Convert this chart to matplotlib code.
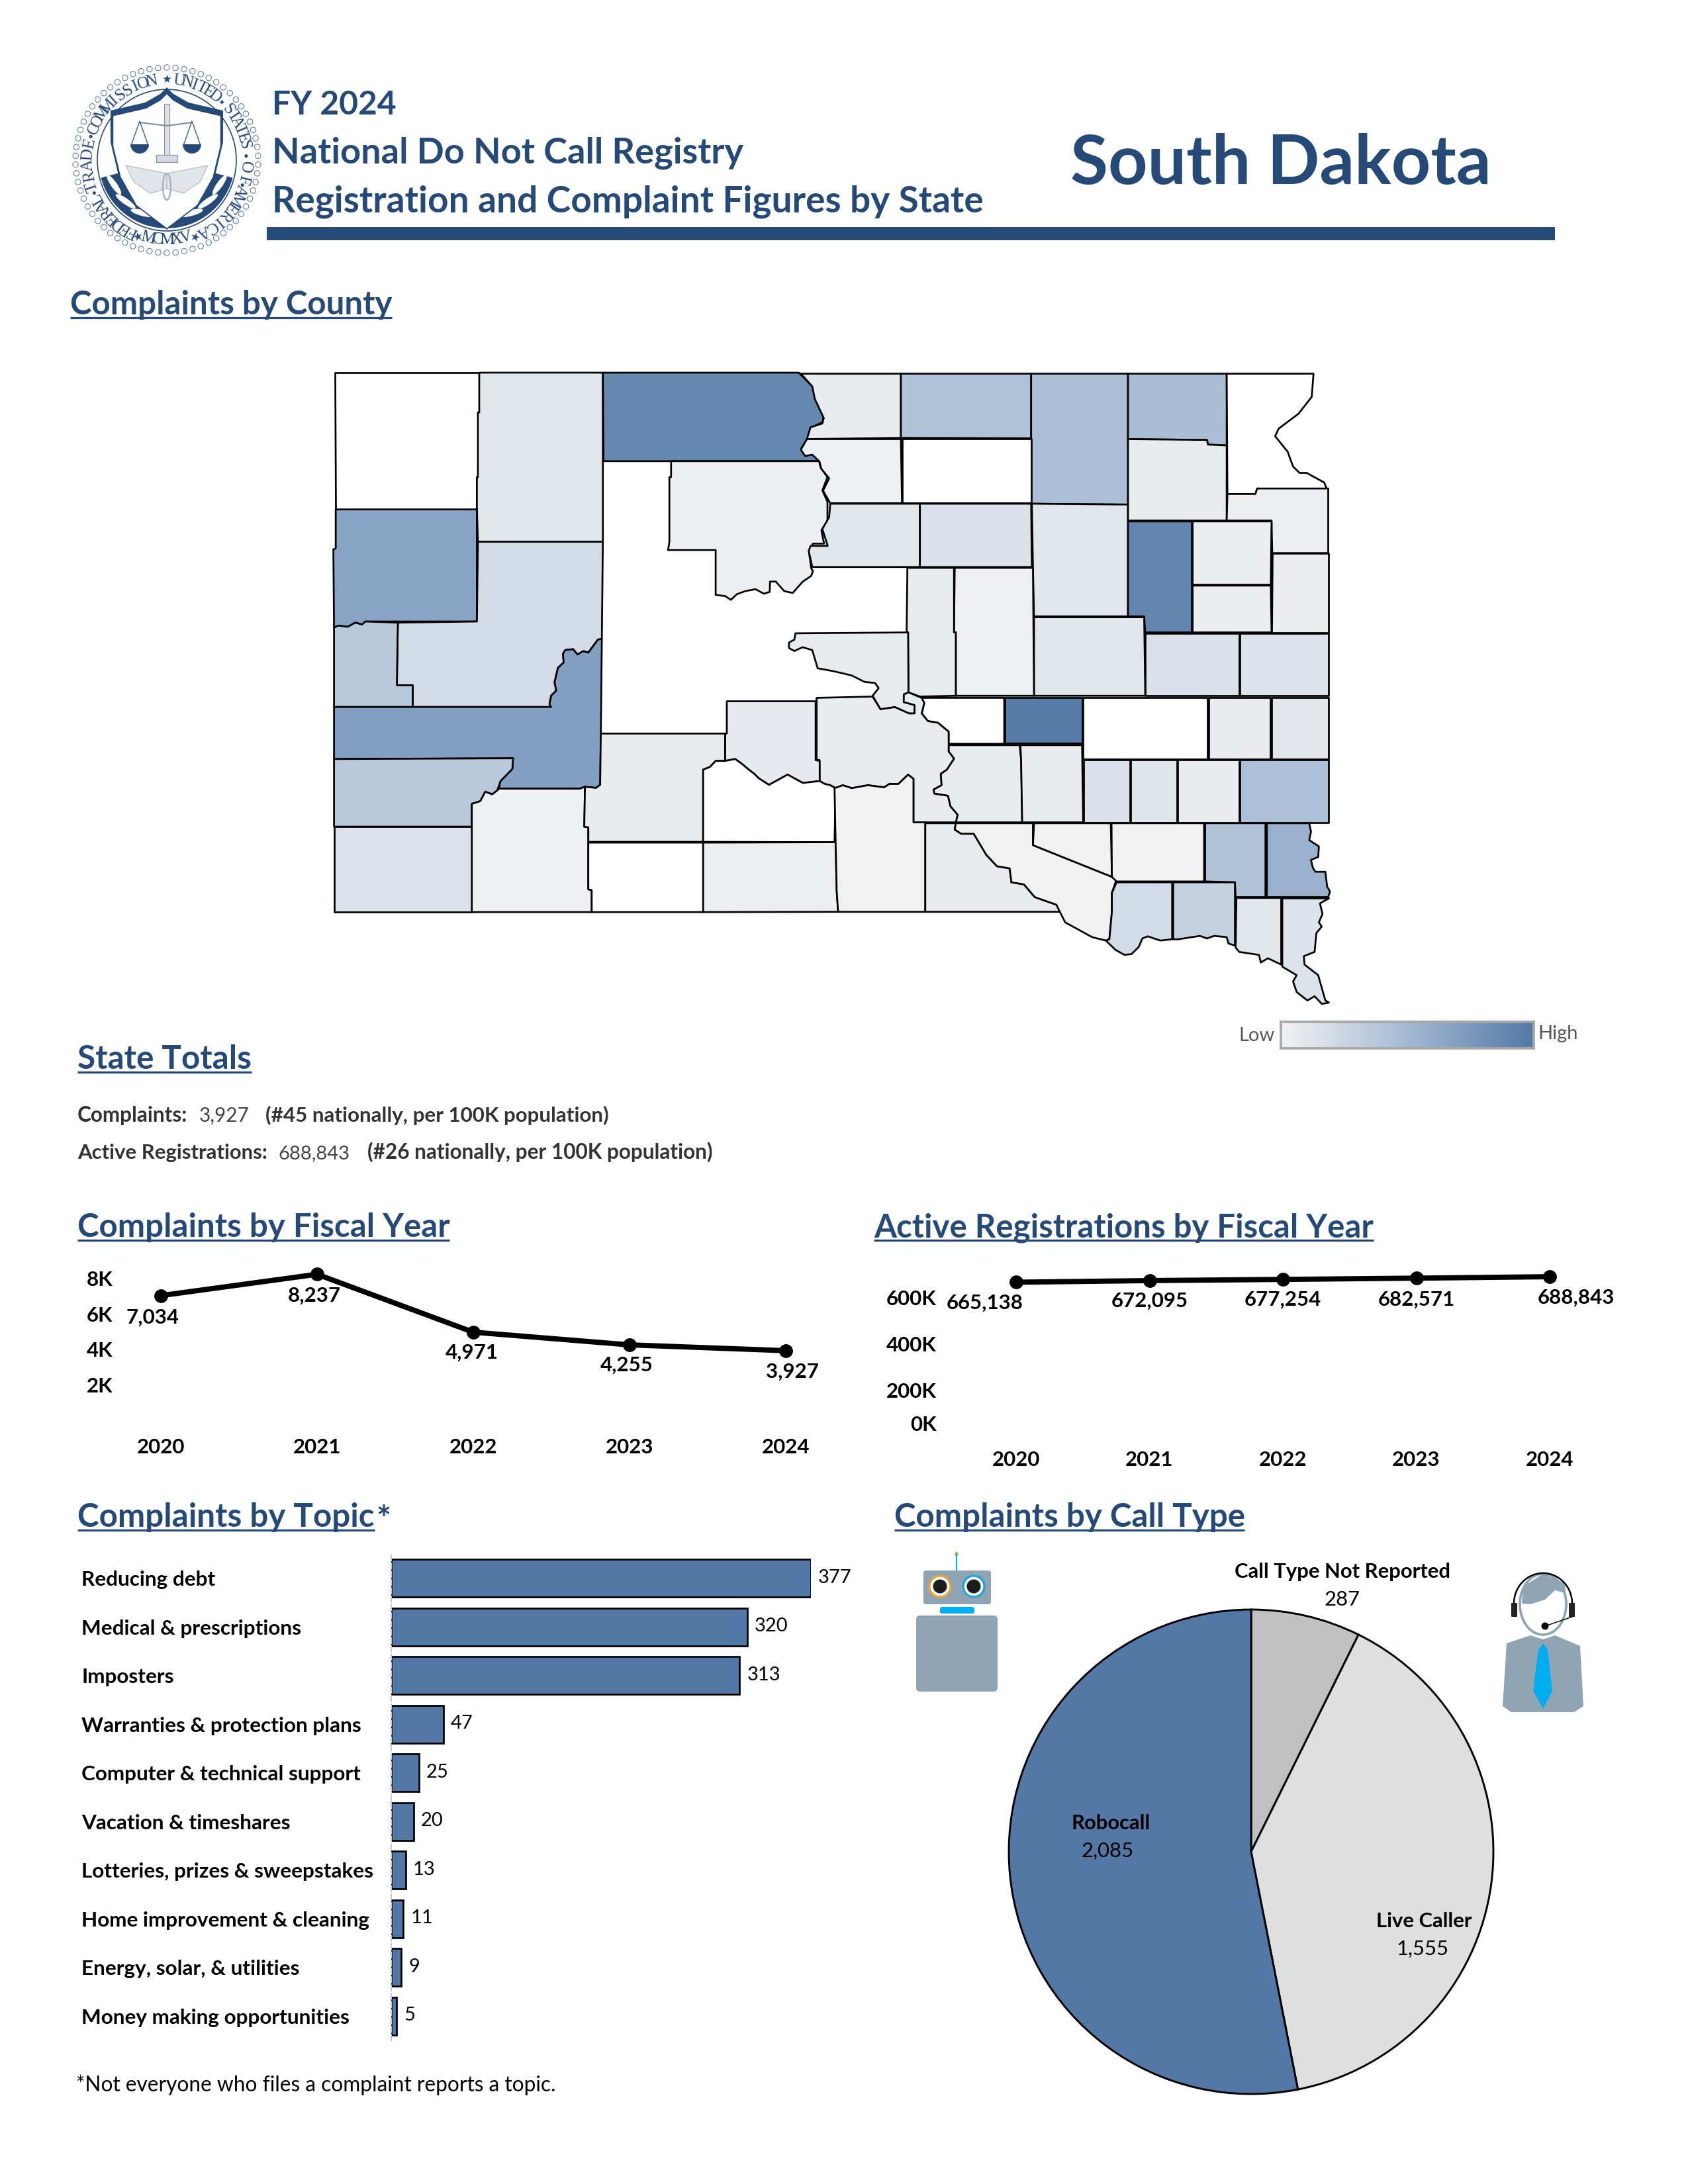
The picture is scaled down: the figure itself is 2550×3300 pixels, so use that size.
import numpy as np
import matplotlib.pyplot as plt
from matplotlib.colors import LinearSegmentedColormap
from matplotlib.patches import Polygon, Ellipse, Circle, Wedge, Arc, FancyBboxPatch, Rectangle
from matplotlib.transforms import ScaledTranslation

plt.rcParams['font.family'] = ['Lato', 'DejaVu Sans']

### 0. Data
years = [2020, 2021, 2022, 2023, 2024]
complaints_by_year = [7034, 8237, 4971, 4255, 3927]
registrations_by_year = [665138, 672095, 677254, 682571, 688843]
complaint_ticks = [2000, 4000, 6000, 8000]
complaint_tick_labels = ['2K', '4K', '6K', '8K']
registration_ticks = [0, 200000, 400000, 600000]
registration_tick_labels = ['0K', '200K', '400K', '600K']

topics = ['Reducing debt', 'Medical & prescriptions', 'Imposters', 'Warranties & protection plans',
          'Computer & technical support', 'Vacation & timeshares', 'Lotteries, prizes & sweepstakes',
          'Home improvement & cleaning', 'Energy, solar, & utilities', 'Money making opportunities']
topic_counts = [377, 320, 313, 47, 25, 20, 13, 11, 9, 5]

call_types = ['Call Type Not Reported', 'Live Caller', 'Robocall']
call_counts = [287, 1555, 2085]

# how dark each county is on the Low-High scale, None = no colour
county_shade = {
    'Harding': None, 'Perkins': .11, 'Corson': .88, 'Butte': .67, 'Meade': .20, 'Lawrence': .37,
    'Pennington': .70, 'Custer': .37, 'Fall River': .145, 'Oglala Lakota': .02, 'Dewey': .04,
    'Campbell': .06, 'McPherson': .43, 'Brown': .46, 'Marshall': .47, 'Roberts': None,
    'Walworth': .02, 'Edmunds': None, 'Potter': .11, 'Faulk': .16, 'Spink': .11, 'Day': .07,
    'Clark': .90, 'Grant': .04, 'Codington': .045, 'Hamlin': .045, 'Deuel': .045, 'Beadle': .11,
    'Kingsbury': .15, 'Brookings': .14, 'Hyde': .03, 'Sully': .07, 'Hughes': .07, 'Buffalo': None,
    'Jerauld': .97, 'Miner': None, 'Lake': .06, 'Moody': .10, 'Brule': .06, 'Aurora': .06,
    'Davison': .15, 'Hanson': .12, 'McCook': .06, 'Minnehaha': .45, 'Jones': .08, 'Jackson': .07,
    'Bennett': None, 'Mellette': None, 'Todd': .04, 'Tripp': .01, 'Gregory': .07, 'Lyman': .07,
    'Charles Mix': .01, 'Douglas': .01, 'Hutchinson': .01, 'Turner': .43, 'Lincoln': .56,
    'Bon Homme': .21, 'Yankton': .30, 'Clay': .11, 'Union': .14,
}


def west(pts):
    return [(450 + x / 1.96, 520 + y / 1.742) for x, y in pts]


def east(pts):
    return [(1200 + x / 1.845, 520 + y / 1.568) for x, y in pts]


county_outline = {
    'Harding': west([(110, 75), (537, 75), (537, 180), (533, 180), (533, 350), (530, 350), (530, 435), (112, 435)]),
    'Perkins': west([(537, 75), (903, 75), (903, 520), (533, 520), (530, 435), (530, 350), (533, 350), (533, 180), (537, 180)]),
    'Corson': west([(903, 75), (1483, 75), (1525, 113), (1530, 140), (1556, 190), (1554, 205), (1520, 220), (1510, 248),
                    (1490, 275), (1503, 288), (1525, 290), (1543, 308), (905, 308)]),
    'Butte': west([(112, 435), (530, 435), (530, 730), (200, 730), (190, 738), (170, 733), (148, 744), (120, 741),
                   (107, 746), (105, 540), (112, 538)]),
    'Meade': west([(533, 520), (903, 520), (900, 775), (888, 778), (860, 812), (845, 808), (828, 817), (815, 803),
                   (792, 805), (785, 815), (787, 838), (770, 852), (760, 890), (765, 912), (750, 925), (745, 948),
                   (750, 955), (340, 955), (340, 898), (293, 898), (296, 733), (530, 730)]),
    'Lawrence': west([(107, 746), (120, 741), (148, 744), (170, 733), (190, 738), (200, 730), (296, 733), (293, 898),
                      (340, 898), (340, 955), (107, 955)]),
    'Pennington': west([(107, 955), (750, 955), (745, 948), (750, 925), (765, 912), (760, 890), (770, 852), (787, 838),
                        (785, 815), (792, 805), (815, 803), (828, 817), (845, 808), (860, 812), (888, 778), (900, 775),
                        (897, 1025), (895, 1160), (883, 1168), (850, 1165), (835, 1170), (595, 1170), (600, 1150),
                        (635, 1118), (637, 1090), (107, 1092)]),
    'Custer': west([(107, 1092), (637, 1090), (635, 1118), (600, 1150), (590, 1175), (575, 1185), (555, 1178),
                    (540, 1203), (515, 1210), (515, 1270), (107, 1270)]),
    'Fall River': west([(107, 1270), (515, 1270), (515, 1495), (107, 1495)]),
    'Oglala Lakota': west([(515, 1210), (540, 1203), (555, 1178), (575, 1185), (590, 1175), (595, 1170), (835, 1170),
                           (850, 1165), (848, 1270), (860, 1272), (860, 1435), (870, 1437), (870, 1495), (515, 1495)]),
    'Dewey': west([(1105, 308), (1543, 308), (1548, 325), (1568, 350), (1553, 385), (1568, 415), (1568, 465),
                   (1550, 490), (1558, 525), (1525, 525), (1513, 545), (1520, 590), (1525, 597), (1520, 610),
                   (1495, 625), (1465, 655), (1440, 650), (1415, 625), (1398, 625), (1397, 652), (1380, 657),
                   (1355, 645), (1325, 650), (1300, 658), (1282, 673), (1265, 663), (1237, 660), (1237, 542),
                   (1096, 542), (1100, 520), (1100, 350), (1105, 350)]),
    'Campbell': east([(18, 70), (297, 70), (297, 222), (35, 225), (45, 197), (78, 188), (82, 175), (57, 130), (50, 100)]),
    'McPherson': east([(297, 70), (660, 70), (660, 223), (297, 222)]),
    'Brown': east([(660, 70), (930, 70), (930, 380), (660, 378)]),
    'Marshall': east([(930, 70), (1205, 70), (1205, 240), (1153, 238), (1150, 227), (930, 225)]),
    'Roberts': east([(1205, 70), (1447, 70), (1442, 125), (1405, 165), (1350, 200), (1340, 218), (1375, 255),
                     (1390, 290), (1408, 305), (1428, 305), (1477, 328), (1488, 352), (1290, 342), (1285, 355), (1207, 355)]),
    'Walworth': east([(35, 225), (297, 225), (300, 377), (100, 377), (80, 347), (97, 318), (75, 295), (70, 278),
                      (50, 262), (30, 265), (18, 250)]),
    'Edmunds': east([(300, 225), (660, 225), (660, 377), (300, 377)]),
    'Potter': east([(100, 378), (350, 378), (350, 528), (50, 528), (40, 490), (45, 478), (93, 478), (78, 438), (97, 410)]),
    'Faulk': east([(350, 378), (660, 378), (662, 528), (350, 528)]),
    'Spink': east([(662, 378), (930, 380), (930, 645), (668, 645), (665, 530)]),
    'Day': east([(930, 225), (1150, 227), (1153, 238), (1205, 240), (1205, 418), (930, 418)]),
    'Clark': east([(930, 420), (1108, 420), (1108, 683), (978, 683), (975, 645), (930, 645)]),
    'Grant': east([(1207, 355), (1285, 355), (1290, 342), (1488, 342), (1488, 495), (1332, 495), (1330, 418), (1205, 418)]),
    'Codington': east([(1110, 420), (1330, 420), (1328, 570), (1110, 570)]),
    'Hamlin': east([(1110, 572), (1328, 572), (1330, 683), (1110, 683)]),
    'Deuel': east([(1332, 495), (1488, 495), (1488, 683), (1330, 683)]),
    'Beadle': east([(668, 647), (975, 647), (978, 833), (668, 833)]),
    'Kingsbury': east([(978, 685), (1240, 685), (1240, 833), (978, 833)]),
    'Brookings': east([(1242, 685), (1488, 685), (1488, 833), (1242, 833)]),
    'Hyde': east([(447, 530), (665, 530), (668, 833), (450, 833), (450, 683), (445, 683)]),
    'Sully': east([(315, 530), (445, 530), (445, 683), (450, 683), (450, 833), (350, 835), (318, 825), (317, 683), (313, 683)]),
    'Hughes': east([(3, 685), (317, 683), (318, 825), (305, 830), (305, 848), (335, 855), (335, 875), (320, 875),
                    (280, 860), (240, 865), (218, 833), (235, 815), (225, 803), (195, 800), (160, 785), (110, 775),
                    (65, 768), (50, 725), (23, 718), (0, 727), (-15, 720), (-15, 707), (0, 700)]),
    'Buffalo': east([(350, 838), (585, 838), (585, 947), (430, 947), (430, 918), (400, 897), (372, 893), (355, 875), (362, 850)]),
    'Jerauld': east([(587, 838), (802, 838), (802, 945), (587, 945)]),
    'Miner': east([(805, 838), (1152, 838), (1152, 983), (805, 983)]),
    'Lake': east([(1155, 838), (1327, 838), (1327, 983), (1155, 983)]),
    'Moody': east([(1330, 838), (1488, 838), (1488, 983), (1330, 983)]),
    'Brule': east([(430, 950), (628, 950), (632, 985), (635, 1133), (450, 1133), (455, 1115), (435, 1095), (428, 1070),
                   (390, 1065), (388, 1055), (410, 1045), (408, 1018), (425, 1008), (445, 982), (430, 965)]),
    'Aurora': east([(630, 950), (802, 950), (805, 1133), (635, 1133), (632, 985)]),
    'Davison': east([(807, 985), (935, 985), (935, 1133), (807, 1133)]),
    'Hanson': east([(938, 985), (1066, 985), (1066, 1133), (938, 1133)]),
    'McCook': east([(1068, 985), (1240, 985), (1240, 1133), (1068, 1133)]),
    'Minnehaha': east([(1242, 985), (1488, 985), (1488, 1133), (1242, 1133)]),
    'Lyman': east([(62, 838), (218, 835), (240, 865), (280, 860), (320, 875), (335, 875), (335, 855), (305, 848),
                   (305, 830), (318, 825), (355, 838), (362, 850), (355, 875), (372, 893), (400, 897), (430, 918),
                   (430, 965), (445, 982), (425, 1008), (408, 1018), (410, 1045), (388, 1055), (390, 1065), (428, 1070),
                   (435, 1095), (455, 1115), (450, 1133), (332, 1133), (332, 1030), (317, 1020), (290, 1042), (265, 1042),
                   (250, 1050), (205, 1045), (185, 1048), (160, 1052), (135, 1045), (115, 1052), (100, 1045), (85, 1042),
                   (70, 1035), (70, 985), (62, 985)]),
    'Jones': west([(1270, 940), (1533, 940), (1533, 1095), (1545, 1097), (1545, 1150), (1495, 1155), (1450, 1133),
                   (1395, 1160), (1365, 1143), (1350, 1130), (1335, 1120), (1315, 1105), (1295, 1092), (1265, 1097),
                   (1265, 1025), (1270, 1025)]),
    'Jackson': west([(897, 1025), (1265, 1025), (1265, 1097), (1237, 1097), (1220, 1113), (1200, 1120), (1200, 1310),
                     (860, 1310), (860, 1272), (848, 1270), (850, 1165), (883, 1168), (895, 1160)]),
    'Bennett': west([(860, 1312), (1200, 1312), (1200, 1495), (870, 1495), (870, 1437), (860, 1435)]),
    'Mellette': west([(1200, 1120), (1220, 1113), (1237, 1097), (1265, 1097), (1295, 1092), (1315, 1105), (1335, 1120),
                      (1350, 1130), (1365, 1143), (1395, 1160), (1450, 1133), (1495, 1155), (1545, 1150)])
                + east([(85, 1042), (100, 1045), (115, 1052), (112, 1180)]) + west([(1200, 1310)]),
    'Todd': west([(1200, 1312)]) + east([(115, 1180), (118, 1295), (122, 1345)]) + west([(1200, 1495)]),
    'Tripp': east([(112, 1052), (135, 1045), (160, 1052), (185, 1048), (205, 1045), (250, 1050), (265, 1042), (290, 1042),
                   (317, 1020), (332, 1030), (332, 1133), (365, 1133), (365, 1345), (122, 1345), (118, 1295), (115, 1180)]),
    'Gregory': east([(365, 1135), (450, 1135), (447, 1150), (465, 1160), (500, 1160), (535, 1210), (565, 1237), (600, 1242),
                     (605, 1275), (640, 1280), (670, 1310), (730, 1328), (745, 1345), (365, 1345)]),
    'Charles Mix': east([(450, 1135), (665, 1135), (665, 1187), (885, 1262), (898, 1268), (885, 1300), (885, 1345),
                         (878, 1410), (868, 1413), (830, 1405), (755, 1370), (740, 1345), (730, 1328), (670, 1310),
                         (640, 1280), (605, 1275), (600, 1242), (565, 1237), (535, 1210), (500, 1160), (465, 1160), (447, 1150)]),
    'Douglas': east([(668, 1135), (882, 1135), (885, 1262), (665, 1187)]),
    'Hutchinson': east([(884, 1135), (1142, 1135), (1142, 1273), (898, 1273), (885, 1262)]),
    'Turner': east([(1145, 1135), (1313, 1135), (1313, 1310), (1230, 1310), (1228, 1275), (1145, 1273)]),
    'Lincoln': east([(1317, 1135), (1435, 1135), (1440, 1155), (1435, 1175), (1462, 1190), (1460, 1215), (1440, 1222),
                     (1445, 1240), (1452, 1250), (1480, 1250), (1485, 1285), (1493, 1297), (1488, 1310), (1317, 1310)]),
    'Bon Homme': east([(898, 1275), (1053, 1275), (1053, 1410), (1020, 1413), (985, 1403), (970, 1408), (960, 1428),
                       (940, 1445), (920, 1447), (895, 1435), (868, 1413), (878, 1410), (885, 1345), (885, 1300)]),
    'Yankton': east([(1056, 1275), (1228, 1275), (1228, 1425), (1210, 1420), (1205, 1405), (1170, 1402), (1150, 1408),
                     (1130, 1402), (1100, 1406), (1070, 1410), (1056, 1410)]),
    'Clay': east([(1232, 1312), (1357, 1312), (1357, 1470), (1320, 1455), (1300, 1465), (1295, 1447), (1240, 1440), (1230, 1430)]),
    'Union': east([(1360, 1313), (1490, 1313), (1465, 1325), (1472, 1350), (1462, 1370), (1470, 1380), (1455, 1395),
                   (1450, 1440), (1420, 1450), (1422, 1470), (1460, 1495), (1475, 1540), (1480, 1555), (1490, 1560),
                   (1470, 1563), (1450, 1545), (1430, 1555), (1400, 1535), (1390, 1510), (1400, 1495), (1360, 1475)]),
}

### 1. Page set-up
NAVY = '#264a78'
BAR_BLUE = '#5378a6'
ICON_GREY = '#8fa5b4'
CYAN = '#00aeef'
PAGE_W, PAGE_H = 2550, 3300
PT = 72 / 300  # one pixel in points

fig = plt.figure(figsize=(8.5, 11), dpi=300)
page = fig.add_axes([0, 0, 1, 1])
page.set_xlim(0, PAGE_W)
page.set_ylim(PAGE_H, 0)
page.axis('off')
renderer = fig.canvas.get_renderer()


def px_axes(x0, y0, x1, y1):
    return fig.add_axes([x0 / PAGE_W, 1 - y1 / PAGE_H, (x1 - x0) / PAGE_W, (y1 - y0) / PAGE_H])


def fit_text(x, y, s, x1, **kw):
    # size the text so it spans from x to x1, like the reference does
    t = page.text(x, y, s, va='baseline', ha='left', **kw)
    t.set_fontsize(t.get_fontsize() * (x1 - x) / t.get_window_extent(renderer).width)
    return t


def heading(x, y, s, x1):
    fit_text(x, y, s, x1, color=NAVY, fontweight='bold', fontsize=14)
    page.plot([x, x1], [y + 5, y + 5], color=NAVY, lw=3.2 * PT, solid_capstyle='butt')


### 2. Seal
cx, cy = 252, 242
for a in np.linspace(0, 2 * np.pi, 66, endpoint=False):
    page.add_patch(Circle((cx + 138 * np.sin(a), cy - 140 * np.cos(a)), 4.2, fc='white', ec='#5c7ba0', lw=0.25))
page.add_patch(Ellipse((cx, cy), 210, 214, fc='none', ec=NAVY, lw=0.4))
page.add_patch(Wedge((cx, cy), 103, 15, 165, fc=NAVY, ec='none'))
for ang, side in [(25, 1), (45, 1), (65, 1), (115, -1), (135, -1), (155, -1)]:
    page.add_patch(Ellipse((cx + 88 * np.cos(np.radians(ang)), cy + 88 * np.sin(np.radians(ang))), 36, 9,
                           angle=ang + 100 * side, fc='white', ec='none'))


def ring_word(word, a0, a1, flip=False):
    for ch, a in zip(word, np.linspace(a0, a1, len(word))):
        rad = np.radians(a)
        page.text(cx + 119 * np.sin(rad), cy - 121 * np.cos(rad), ch, rotation=(180 - a) if flip else -a,
                  rotation_mode='anchor', ha='center', va='center', family='Liberation Serif', fontsize=6, color=NAVY)


ring_word('FEDERAL', -154, -119)
ring_word('TRADE', -109, -78)
ring_word('COMMISSION', -67, -11)
ring_word('UNITED', 9, 37)
ring_word('STATES', 51, 79)
ring_word('OF', 95, 104)
ring_word('AMERICA', 112, 153)
ring_word('MCMXV', 194, 166, flip=True)
for a in [0, 160, -158]:
    rad = np.radians(a)
    page.text(cx + 120 * np.sin(rad), cy - 122 * np.cos(rad), '★', family='DejaVu Sans', fontsize=4, color=NAVY,
              ha='center', va='center', rotation=-a)
for a in [-114, -73, 44, 87, 108]:
    rad = np.radians(a)
    page.add_patch(Circle((cx + 120 * np.sin(rad), cy - 122 * np.cos(rad)), 2.5, fc=NAVY, ec='none'))

shield = np.array([(252, 132), (262, 142), (285, 155), (337, 167), (337, 215), (325, 265), (300, 310), (252, 347),
                   (204, 310), (179, 265), (167, 215), (167, 167), (219, 155), (242, 142)], dtype=float)
page.add_patch(Polygon(shield, fc=NAVY, ec='none'))
page.add_patch(Polygon((shield - (252, 240)) * (0.95, 0.94) + (252, 244), fc='white', ec='none'))
page.add_patch(Rectangle((248, 157), 8, 78, fc='#dde1e6', ec='#8a97a8', lw=0.3))
page.add_patch(Rectangle((236, 234), 32, 11, fc='#d5d9df', ec='#8a97a8', lw=0.3))
page.plot([211, 252, 290], [185, 190, 185], color='#7d8ca0', lw=0.5)
for px in (211, 290):
    page.plot([px - 13, px, px + 13], [220, 183, 220], color='#44607f', lw=0.35)
    page.add_patch(Wedge((px, 218), 14, 0, 180, fc=NAVY, ec='none'))
for sign in (-1, 1):
    page.add_patch(Polygon([(252, 262), (252 + sign * 62, 250), (252 + sign * 50, 275), (252 + sign * 25, 292), (252, 285)],
                           fc='#e1e5ea', ec='#b4bcc7', lw=0.3))
page.add_patch(Ellipse((252, 282), 12, 40, fc='none', ec='#aab3bf', lw=0.6))

### 3. Header text
fit_text(411, 173, 'FY 2024', 599, color=NAVY, fontweight='bold', fontsize=16)
fit_text(411, 246, 'National Do Not Call Registry', 1124, color=NAVY, fontweight='bold', fontsize=16)
fit_text(411, 321, 'Registration and Complaint Figures by State', 1486, color=NAVY, fontweight='bold', fontsize=16)
fit_text(1617, 278, 'South Dakota', 2252, color=NAVY, fontweight='bold', fontsize=28)
page.add_patch(Rectangle((403, 343), 1946, 20, fc=NAVY, ec='none'))

heading(106, 475, 'Complaints by County', 592)
heading(117, 1615, 'State Totals', 380)
heading(117, 1869, 'Complaints by Fiscal Year', 679)
heading(1320, 1869, 'Active Registrations by Fiscal Year', 2075)
heading(117, 2307, 'Complaints by Topic', 566)
fit_text(568, 2313, '*', 590, color=NAVY, fontweight='bold', fontsize=14)
heading(1351, 2307, 'Complaints by Call Type', 1880)

### 4. County map
shade_cmap = LinearSegmentedColormap.from_list('low_high', [(0, '#f2f2f2'), (0.45, '#acc0d7'), (1, BAR_BLUE)])
for county, outline in county_outline.items():
    shade = county_shade[county]
    color = 'white' if shade is None else shade_cmap(shade)
    page.add_patch(Polygon(outline, closed=True, fc=color, ec='black', lw=0.65, joinstyle='round'))

legend_ax = px_axes(1935, 1544, 2317, 1584)
legend_ax.imshow(np.linspace(0, 1, 256)[None, :], cmap=shade_cmap, aspect='auto')
legend_ax.set_xticks([])
legend_ax.set_yticks([])
for spine in legend_ax.spines.values():
    spine.set_color('#a8a8a8')
    spine.set_linewidth(0.9)
page.text(1926, 1565, 'Low', ha='right', va='center', fontsize=7, color='#555555')
page.text(2323, 1562, 'High', ha='left', va='center', fontsize=7, color='#555555')

### 5. State totals
fit_text(117, 1695, 'Complaints:', 284, color='#333333', fontweight='bold', fontsize=8)
fit_text(301, 1695, f'{complaints_by_year[-1]:,}', 377, color='#444444', fontsize=8)
fit_text(401, 1695, '(#45 nationally, per 100K population)', 922, color='#333333', fontweight='bold', fontsize=8)
fit_text(117, 1751, 'Active Registrations:', 405, color='#333333', fontweight='bold', fontsize=8)
fit_text(420, 1751, f'{registrations_by_year[-1]:,}', 529, color='#444444', fontsize=8)
fit_text(555, 1751, '(#26 nationally, per 100K population)', 1078, color='#333333', fontweight='bold', fontsize=8)


### 6. Line charts
def year_chart(box, values, ylim, ticks, tick_labels, label_offsets, tick_pad, year_pad):
    ax = px_axes(*box)
    ax.plot(years, values, color='black', lw=1.9, marker='o', ms=4, clip_on=False)
    ax.set_xlim(years[0], years[-1])
    ax.set_ylim(*ylim)
    ax.set_xticks(years)
    ax.set_yticks(ticks)
    ax.set_yticklabels(tick_labels)
    ax.tick_params(axis='both', length=0, labelsize=7.5)
    ax.tick_params(axis='y', pad=tick_pad)
    ax.tick_params(axis='x', pad=year_pad)
    for lab in ax.get_xticklabels() + ax.get_yticklabels():
        lab.set_fontweight('bold')
    for spine in ax.spines.values():
        spine.set_visible(False)
    ax.patch.set_alpha(0)
    for yr, val, off in zip(years, values, label_offsets):
        ax.annotate(f'{val:,}', (yr, val), xytext=(off[0] * PT, -off[1] * PT), textcoords='offset points',
                    ha='center', va='center', fontsize=7.5, fontweight='bold', annotation_clip=False)
    return ax


complaint_ax = year_chart((243, 1905, 1187, 2146), complaints_by_year, (0, 9000), complaint_ticks,
                          complaint_tick_labels, [(-13, 33), (-4, 32), (-2, 31), (-4, 31), (10, 32)], 17.5, 6.6)
registration_ax = year_chart((1535, 1889, 2341, 2171), registrations_by_year, (0, 803000), registration_ticks,
                             registration_tick_labels, [(-47, 31), (0, 31), (0, 30), (0, 32), (40, 32)], 28.8, 5)
# the 0K label sits higher than its tick in the reference
zero_label = registration_ax.get_yticklabels()[0]
zero_label.set_transform(zero_label.get_transform() + ScaledTranslation(0, 20 * PT / 72, fig.dpi_scale_trans))

### 7. Topic bars
bar_ax = px_axes(591, 2348, 1225, 3083)
bars = bar_ax.barh(range(len(topics)), topic_counts, height=0.775, color=BAR_BLUE, edgecolor='black', linewidth=0.65)
bar_ax.set_xlim(0, max(topic_counts))
bar_ax.set_ylim(len(topics) - 0.5, -0.5)
bar_ax.set_xticks([])
bar_ax.set_yticks(range(len(topics)))
bar_ax.set_yticklabels(topics, ha='left', fontweight='bold', fontsize=7.55)
bar_ax.tick_params(axis='y', length=0, pad=112.3)
for name, spine in bar_ax.spines.items():
    spine.set_visible(name == 'left')
bar_ax.spines['left'].set_color('#c8c8c8')
bar_ax.spines['left'].set_linestyle((0, (4, 2)))
bar_ax.spines['left'].set_linewidth(0.5)
bar_ax.patch.set_alpha(0)
for i, count in enumerate(topic_counts):
    bar_ax.annotate(str(count), (count, i), xytext=(11 * PT, 1 * PT), textcoords='offset points', ha='left',
                    va='center', fontsize=7, annotation_clip=False)
page.text(115, 3151, '*Not everyone who files a complaint reports a topic.', va='center', fontsize=7.6)

### 8. Call type pie
pie_ax = px_axes(1890 - 366, 2798 - 366, 1890 + 366, 2798 + 366)
wedges, _ = pie_ax.pie(call_counts, colors=['#c1c0c1', '#e0dfe0', BAR_BLUE], startangle=90, counterclock=False,
                       radius=1, wedgeprops={'edgecolor': 'black', 'linewidth': 0.7})
for w in wedges:
    w.set_clip_on(False)
pie_ax.set_xlim(-1, 1)
pie_ax.set_ylim(-1, 1)
pie_label_at = [((2028, 2375), (2028, 2417)), ((2151, 2903), (2149, 2945)), ((1678, 2755), (1673, 2797))]
for name, count, (name_xy, count_xy) in zip(call_types, call_counts, pie_label_at):
    # drawn on the pie axes so the wedges do not cover them, placed in page pixels
    pie_ax.text(*name_xy, name, transform=page.transData, ha='center', va='center', fontweight='bold',
                fontsize=7.45, clip_on=False)
    pie_ax.text(*count_xy, f'{count:,}', transform=page.transData, ha='center', va='center', fontsize=7.45,
                clip_on=False)

### 9. Robot and agent icons
page.plot([1445, 1445], [2348, 2373], color=CYAN, lw=0.5)
page.add_patch(Ellipse((1445, 2348), 6, 7, fc='#f2b25c', ec='none'))
page.add_patch(FancyBboxPatch((1399, 2377), 94, 43, boxstyle='round,pad=4', fc=ICON_GREY, ec='none'))
for ex, ring in [(1420, '#e8a33d'), (1471, '#1ca7e0')]:
    page.add_patch(Circle((ex, 2397), 16, fc='white', ec=ring, lw=0.8))
    page.add_patch(Ellipse((ex, 2397), 21, 21, fc='#1d1d1d', ec='none'))
page.add_patch(FancyBboxPatch((1423, 2431), 46, 4, boxstyle='round,pad=3', fc=CYAN, ec='none'))
page.add_patch(FancyBboxPatch((1390, 2447), 111, 103, boxstyle='round,pad=6', fc=ICON_GREY, ec='none'))

page.add_patch(Polygon([(2276, 2483), (2312, 2471), (2331, 2477), (2349, 2471), (2387, 2487), (2392, 2578), (2378, 2587),
                        (2283, 2587), (2270, 2578)], fc=ICON_GREY, ec='none'))
page.add_patch(Polygon([(2331, 2483), (2338, 2493), (2345, 2555), (2331, 2582), (2316, 2555), (2324, 2493)], fc=CYAN, ec='none'))
page.add_patch(Ellipse((2331, 2424), 70, 92, fc='white', ec=ICON_GREY, lw=0.9))
page.add_patch(Polygon([(2299, 2423), (2301, 2397), (2331, 2378), (2364, 2392), (2365, 2407), (2349, 2403), (2334, 2417),
                        (2312, 2424)], fc=ICON_GREY, ec='none'))
page.add_patch(Arc((2331, 2423), 88, 92, theta1=180, theta2=360, color='black', lw=0.6))
for ex in (2283, 2370):
    page.add_patch(FancyBboxPatch((ex + 1, 2423), 7, 19, boxstyle='round,pad=1', fc='#222222', ec='none'))
page.plot([2334, 2375], [2457, 2443], color='black', lw=0.35)
page.add_patch(Circle((2334, 2457), 5.5, fc='black', ec='none'))

plt.savefig('out.png', dpi=300)
